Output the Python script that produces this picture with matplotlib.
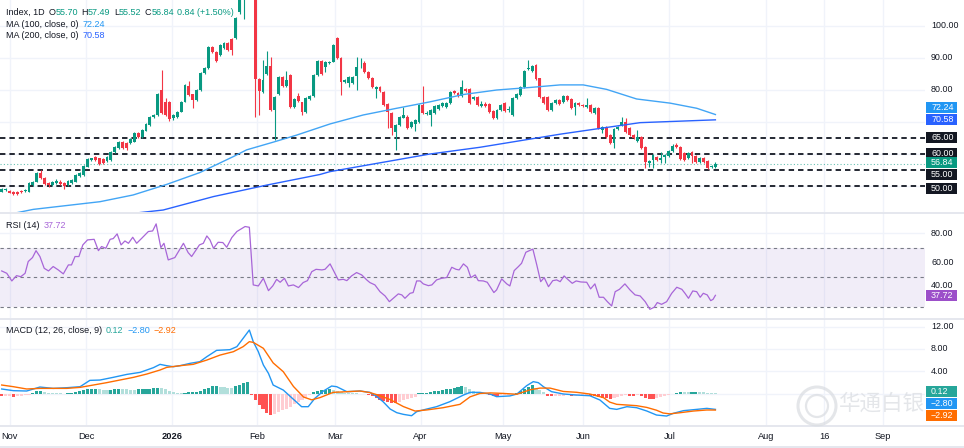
import matplotlib
matplotlib.use("Agg")
import matplotlib.pyplot as plt
from matplotlib.patches import Rectangle, Ellipse
from matplotlib.lines import Line2D
from matplotlib.transforms import blended_transform_factory

plt.rcParams["font.family"] = ["Liberation Sans", "DejaVu Sans"]

W, H = 964, 448

# daily candles (first bar is the early-Nov session)
opens = [
    48.1, 48.7, 48.4, 48.1, 48.0, 48.4, 48.2, 48.1, 50.2, 51.3,
    53.9, 52.3, 50.9, 50.2, 50.7, 51.3, 50.7, 50.1, 50.9, 51.3,
    53.0, 53.3, 55.9, 58.0, 58.9, 58.5, 58.2, 57.8, 58.0, 60.6,
    61.7, 63.8, 63.4, 63.2, 63.8, 66.6, 65.1, 67.2, 69.0, 71.6,
    72.1, 79.9, 76.0, 76.0, 71.0, 71.6, 73.1, 76.3, 81.2, 78.5,
    76.8, 79.9, 85.3, 86.7, 93.2, 91.9, 90.8, 92.9, 94.5, 95.7,
    96.0, 104.4, 110.0, 115.0, 121.0, 116.0, 83.2, 79.4, 84.9, 87.4,
    73.6, 78.6, 83.9, 81.2, 84.6, 74.7, 78.1, 76.0, 73.1, 77.0,
    78.0, 84.6, 89.0, 87.2, 88.2, 88.8, 96.3, 90.0, 82.5, 82.2,
    82.0, 84.3, 87.0, 88.2, 85.6, 83.7, 80.1, 80.9, 79.4, 75.4,
    72.6, 66.7, 69.0, 71.2, 71.4, 68.4, 69.3, 70.0, 75.2, 72.5,
    72.1, 72.8, 73.9, 74.9, 74.7, 75.7, 79.7, 79.1, 78.0, 80.1,
    80.1, 77.1, 77.8, 75.0, 75.6, 75.5, 73.3, 71.0, 73.6, 75.7,
    73.5, 72.1, 77.3, 78.4, 80.7, 86.4, 85.9, 87.7, 83.5, 77.8,
    77.8, 73.6, 75.7, 76.8, 76.0, 78.0, 77.0, 74.7, 75.9, 75.2,
    74.7, 75.2, 72.8, 74.2, 67.4, 68.4, 65.8, 63.2, 67.6, 69.0,
    70.0, 67.9, 65.8, 63.9, 65.3, 62.0, 57.2, 58.0, 59.1, 58.0,
    58.9, 59.3, 60.9, 62.7, 62.0, 60.3, 58.5, 60.6, 59.3, 57.5,
    58.7, 57.8, 55.8, 55.70,
]
highs = [
    49.2, 49.4, 48.8, 48.3, 48.2, 48.8, 49.0, 51.0, 51.5, 54.3,
    55.0, 52.6, 51.3, 51.6, 52.0, 51.7, 51.0, 51.7, 52.1, 53.6,
    54.2, 56.5, 58.5, 58.8, 59.2, 58.8, 58.5, 59.4, 60.9, 62.5,
    64.1, 64.1, 63.7, 64.8, 66.9, 66.9, 67.7, 69.6, 71.9, 72.5,
    79.0, 86.0, 77.5, 76.4, 72.4, 73.4, 76.6, 81.8, 82.7, 78.8,
    80.2, 85.6, 87.0, 93.5, 93.5, 92.2, 94.3, 94.8, 94.8, 96.0,
    102.6, 111.0, 117.0, 124.0, 125.0, 118.0, 83.5, 89.3, 92.1, 90.3,
    78.1, 84.2, 84.2, 85.8, 85.0, 77.4, 78.9, 76.3, 77.8, 78.4,
    84.9, 89.3, 89.3, 89.1, 89.1, 94.3, 96.6, 90.3, 83.3, 84.2,
    84.4, 90.3, 89.8, 89.0, 85.9, 84.0, 81.2, 81.2, 79.7, 75.7,
    72.9, 69.3, 71.7, 74.5, 72.0, 70.3, 70.8, 75.5, 81.2, 73.3,
    73.9, 75.2, 75.5, 76.0, 76.0, 79.7, 80.0, 79.4, 83.0, 80.4,
    80.4, 78.1, 78.1, 76.5, 76.0, 75.8, 73.6, 74.1, 75.5, 76.0,
    74.8, 77.6, 78.9, 81.0, 86.2, 89.3, 87.7, 88.0, 83.8, 78.1,
    78.1, 76.0, 77.1, 77.1, 78.3, 78.3, 77.3, 76.0, 76.2, 75.5,
    77.3, 75.5, 74.5, 74.5, 68.5, 68.7, 66.1, 67.9, 68.5, 71.4,
    71.3, 68.2, 66.1, 67.4, 65.6, 62.3, 58.1, 59.9, 59.4, 60.5,
    59.9, 61.2, 63.0, 63.4, 62.3, 60.6, 60.4, 60.9, 59.6, 59.0,
    59.0, 58.1, 56.6, 57.49,
]
lows = [
    47.9, 48.4, 47.6, 47.1, 47.2, 47.8, 47.9, 47.9, 50.0, 51.0,
    52.0, 50.2, 49.7, 50.0, 50.5, 50.2, 48.9, 49.9, 50.6, 51.1,
    52.7, 53.0, 55.7, 57.8, 57.7, 56.5, 56.7, 57.5, 57.8, 60.3,
    61.4, 61.4, 61.2, 63.0, 63.5, 64.8, 64.8, 67.0, 68.7, 71.3,
    71.8, 72.3, 71.8, 70.3, 70.6, 71.3, 72.9, 76.0, 78.0, 74.2,
    76.5, 79.6, 85.0, 86.4, 91.6, 88.7, 90.5, 92.6, 92.1, 90.8,
    95.7, 103.8, 102.0, 113.0, 115.0, 71.5, 72.0, 79.0, 84.6, 73.3,
    64.3, 78.3, 80.7, 80.9, 74.4, 74.4, 76.3, 72.0, 72.8, 76.7,
    77.7, 84.3, 84.6, 85.6, 88.0, 88.5, 89.7, 78.4, 82.2, 80.7,
    81.7, 79.9, 86.9, 85.3, 83.4, 80.4, 77.3, 79.4, 74.9, 68.0,
    65.8, 61.1, 68.7, 71.0, 67.6, 68.1, 67.0, 69.7, 72.5, 72.0,
    68.5, 72.5, 73.6, 74.6, 74.4, 75.4, 78.6, 77.8, 77.7, 79.3,
    75.4, 76.8, 74.9, 74.5, 74.7, 72.8, 70.7, 70.7, 73.3, 73.1,
    73.0, 71.8, 77.0, 78.1, 80.4, 86.1, 85.6, 82.9, 77.5, 75.4,
    73.3, 73.3, 75.4, 75.1, 75.7, 76.5, 73.9, 72.1, 74.9, 74.6,
    74.4, 72.8, 72.5, 67.6, 66.5, 65.0, 63.1, 61.7, 67.3, 68.7,
    66.6, 65.5, 64.5, 63.6, 61.4, 55.4, 55.8, 55.6, 57.7, 57.0,
    57.0, 59.0, 60.6, 61.7, 57.9, 57.7, 58.2, 57.0, 57.2, 57.2,
    57.2, 55.1, 55.5, 55.52,
]
closes = [
    48.9, 49.0, 47.8, 47.3, 47.4, 48.1, 48.6, 50.7, 51.3, 53.9,
    52.3, 50.5, 50.1, 51.3, 51.6, 50.5, 49.9, 51.4, 51.8, 53.3,
    53.9, 56.2, 58.2, 58.5, 58.0, 56.8, 57.0, 59.1, 60.6, 62.2,
    63.8, 61.7, 61.7, 64.5, 66.6, 65.1, 67.4, 69.3, 71.6, 72.1,
    78.6, 72.6, 72.1, 70.7, 72.1, 73.1, 76.3, 81.5, 78.3, 76.8,
    79.9, 85.3, 86.7, 93.2, 91.9, 89.0, 94.0, 94.5, 92.4, 92.4,
    102.3, 110.0, 115.0, 121.0, 117.0, 83.2, 79.7, 83.0, 87.4, 73.6,
    77.8, 83.9, 81.0, 83.0, 74.7, 77.1, 76.6, 73.1, 77.5, 78.1,
    84.6, 89.0, 84.9, 88.8, 88.8, 94.0, 90.0, 82.5, 83.0, 83.9,
    84.1, 87.2, 87.2, 85.6, 83.7, 80.7, 80.9, 79.7, 75.2, 72.9,
    67.9, 69.0, 71.4, 72.0, 67.9, 70.0, 70.5, 75.2, 72.8, 72.8,
    73.6, 74.9, 75.2, 75.7, 75.7, 79.4, 78.9, 78.1, 80.7, 79.6,
    75.7, 77.8, 75.2, 75.6, 75.0, 73.1, 71.0, 73.8, 75.2, 73.4,
    74.0, 77.3, 78.6, 80.7, 85.9, 86.7, 87.4, 83.2, 77.8, 75.7,
    73.6, 75.7, 76.8, 75.4, 78.0, 76.8, 74.2, 75.7, 75.2, 74.9,
    75.2, 73.1, 74.2, 67.9, 68.2, 65.3, 63.4, 67.6, 68.2, 70.0,
    66.9, 65.8, 64.8, 65.3, 61.7, 57.3, 57.8, 59.6, 58.0, 58.6,
    59.6, 60.9, 62.4, 62.0, 58.2, 58.0, 60.1, 59.3, 57.5, 58.7,
    57.5, 55.4, 56.1, 56.84,
]

# moving averages (bar index, value)
ma100_x = [0, 8.1, 25.2, 33.7, 42.3, 50.8, 59.4, 62.8, 69.6, 75.6, 84.2, 92.7,
           101.3, 109.8, 118.4, 126.9, 135.5, 143.2, 149.1, 155.1, 162.8, 171.4,
           178.2, 183]
ma100_y = [40.6, 42.6, 45.0, 47.1, 50.4, 54.1, 59.1, 61.2, 63.6, 65.8, 69.3, 72.1,
           74.2, 76.2, 78.5, 79.9, 80.7, 81.5, 81.5, 80.1, 77.1, 75.8, 74.2, 72.24]
ma200_x = [0, 20, 41.4, 54.3, 68.0, 81.6, 84.2, 109.8, 122.6, 143.2, 153.4, 163.7, 183]
ma200_y = [36.5, 39.5, 42.4, 46.6, 50.2, 53.5, 54.4, 59.9, 62.0, 66.1, 67.9, 69.7, 70.58]

levels = [65.0, 60.0, 55.0, 50.0]

# RSI(14)
rsi_x = [0, 1.3, 2.6, 3.8, 4.9, 6.0, 6.8, 7.9, 8.8, 9.8, 10.9, 12.0, 13.2, 14.5,
         15.8, 17.1, 17.9, 18.8, 19.8, 20.8, 22.0, 23.7, 24.8, 25.6, 26.7, 27.8,
         28.6, 29.6, 30.6, 31.6, 32.5, 33.6, 34.6, 35.9, 37.6, 38.7, 39.6, 40.8,
         41.6, 42.7, 44.4, 46.6, 47.8, 48.7, 50.7, 51.7, 52.6, 53.4, 54.3, 55.5,
         56.7, 57.7, 59.0, 60.3, 62.4, 63.5, 64.5, 65.8, 67.1, 68.4, 69.5, 70.5,
         71.4, 72.5, 73.5, 74.8, 76.1, 77.3, 78.4, 79.5, 80.6, 82.1, 82.9, 84.2,
         85.0, 86.3, 87.6, 88.5, 89.7, 91.0, 92.3, 93.6, 94.4, 95.7, 97.0, 98.3,
         99.4, 100.4, 101.7, 102.6, 103.4, 104.7, 105.5, 106.4, 107.3, 108.1,
         109.4, 110.3, 111.5, 112.8, 114.1, 115.4, 116.5, 117.3, 118.4, 119.4,
         120.3, 121.4, 122.2, 123.5, 124.5, 126.2, 126.9, 128.2, 129.5, 130.3,
         131.4, 132.5, 133.3, 134.4, 135.3, 136.2, 137.2, 138.2, 139.1, 140.2,
         141.3, 142.3, 143.2, 144.2, 145.3, 146.3, 147.3, 148.5, 150.0, 151.0,
         152.1, 153.2, 154.3, 155.3, 156.4, 157.3, 158.4, 159.8, 161.1, 162.4,
         163.7, 165.0, 166.2, 167.3, 168.1, 169.2, 170.5, 171.8, 173.1, 174.4,
         175.2, 176.1, 177.2, 178.2, 179.1, 179.9, 180.9, 181.8, 182.4, 183.0]
rsi_y = [54.3, 52.7, 47.5, 51.1, 50.4, 52.7, 60.7, 63.4, 68.1, 64.1, 56.1, 54.3,
         57.3, 55.0, 52.3, 58.4, 58.4, 64.1, 64.1, 72.0, 75.4, 75.8, 68.1, 70.9,
         69.7, 75.8, 76.3, 79.5, 72.0, 74.7, 73.1, 77.2, 73.1, 76.5, 81.1, 81.5,
         86.3, 70.2, 73.1, 61.8, 63.4, 73.1, 66.8, 64.1, 72.0, 73.1, 78.1, 75.4,
         69.7, 73.8, 73.6, 70.4, 77.0, 81.1, 84.5, 84.0, 44.8, 44.1, 49.3, 40.9,
         44.1, 48.6, 46.6, 49.3, 44.1, 44.8, 43.0, 46.4, 47.7, 53.8, 55.4, 55.0,
         55.4, 59.1, 55.0, 48.2, 48.6, 47.7, 50.9, 53.2, 51.6, 48.2, 46.4, 44.8,
         40.2, 37.3, 33.4, 35.7, 38.7, 38.0, 35.7, 39.1, 39.6, 47.5, 47.5, 45.5,
         44.3, 44.8, 48.2, 49.3, 49.8, 56.8, 55.4, 55.0, 59.1, 56.8, 49.8, 51.6,
         47.7, 47.5, 46.6, 39.6, 41.4, 48.9, 45.5, 44.1, 54.5, 57.3, 59.5, 67.0,
         68.1, 69.1, 58.4, 47.0, 49.8, 43.6, 47.7, 48.2, 47.0, 50.9, 48.2, 45.9,
         47.5, 46.8, 46.6, 42.1, 45.5, 36.4, 36.4, 33.4, 30.5, 40.2, 41.8, 45.5,
         41.4, 38.0, 37.3, 33.4, 28.2, 29.6, 32.8, 31.6, 33.4, 39.1, 43.2, 41.8,
         39.1, 35.7, 40.7, 40.2, 36.4, 39.1, 38.0, 34.1, 35.0, 37.72]

# MACD(12, 26, 9)
macd_x = [0, 3.0, 6.4, 9.8, 13.2, 16.7, 20.1, 22.6, 25.2, 28.6, 32.1, 35.5, 38.9,
          40.6, 42.3, 44.0, 45.7, 48.3, 50.8, 52.6, 55.1, 58.5, 60.3, 61.9, 63.5,
          64.5, 65.8, 67.1, 68.4, 69.6, 72.2, 74.8, 76.9, 78.6, 80.3, 82.5, 84.6,
          85.9, 88.5, 91.9, 94.4, 96.2, 97.8, 99.6, 101.3, 103.0, 105.1, 106.4,
          109.0, 111.5, 114.9, 118.4, 120.1, 122.6, 125.2, 126.9, 130.3, 132.1,
          134.6, 136.3, 137.6, 138.9, 141.0, 144.0, 147.4, 150.8, 153.4, 155.9,
          157.7, 160.3, 162.8, 165.4, 167.9, 170.5, 172.2, 174.8, 178.2, 180.8, 183]
macd_y = [0.84, 0.54, 0.48, 1.19, 0.95, 1.07, 1.25, 2.38, 2.44, 2.92, 3.45, 3.81,
          4.65, 5.24, 5.0, 4.82, 5.0, 5.42, 5.72, 6.61, 7.74, 7.86, 8.4, 9.88, 11.37,
          9.29, 7.5, 5.12, 3.63, 1.55, 0.65, -1.0, -2.32, -2.32, -0.83, 0.48, 1.37,
          1.25, 0.36, 0.48, 0.24, -0.53, -1.43, -2.74, -3.39, -3.69, -3.93, -3.21,
          -2.74, -2.32, -1.43, -0.24, 0.24, 0.24, -0.06, -0.53, -0.4, -0.06, 1.43,
          2.15, 1.97, 1.25, 0.36, -0.05, -0.24, -0.36, -1.13, -2.62, -2.8, -2.32,
          -2.5, -3.09, -3.81, -3.99, -3.51, -3.03, -2.8, -2.62, -2.80]
signal_x = [0, 3.0, 6.4, 9.8, 13.2, 16.7, 20.1, 23.5, 26.9, 30.3, 33.8, 37.2, 40.6,
            42.3, 45.7, 49.1, 52.6, 56.0, 59.4, 61.9, 63.5, 64.5, 67.1, 69.6, 72.2,
            74.8, 77.4, 79.5, 81.6, 85.0, 88.5, 91.9, 94.4, 97.0, 99.6, 103.0, 106.0,
            109.0, 113.2, 117.5, 120.1, 122.6, 125.2, 128.6, 132.1, 135.5, 138.0,
            140.6, 144.0, 147.4, 150.8, 154.3, 155.9, 157.7, 160.3, 162.8, 165.4,
            167.9, 169.6, 171.3, 173.9, 177.3, 180.8, 183]
signal_y = [1.55, 1.25, 0.84, 0.95, 0.95, 0.95, 1.13, 1.55, 1.97, 2.44, 2.92, 3.51,
            4.23, 4.7, 5.0, 5.24, 6.01, 6.9, 7.5, 8.4, 9.29, 9.17, 8.1, 5.5, 3.93,
            1.3, -0.6, -1.1, -0.7, 0.24, 0.36, 0.48, 0.2, -0.35, -1.05, -2.3, -3.1,
            -2.9, -2.5, -1.9, -0.56, 0.04, 0.14, 0.05, -0.1, 0.7, 1.0, 1.0, 0.4, 0.25,
            -0.06, -0.7, -1.5, -1.9, -2.02, -2.14, -2.45, -2.95, -3.45, -3.6, -3.4,
            -3.1, -2.91, -2.92]
hist = [
    -0.5, -0.48, -0.45, -0.6, -0.4, -0.35, -0.3, -0.2, 0.2, 0.4,
    0.5, 0.3, 0.2, 0.15, 0.1, 0.1, -0.05, 0.05, 0.1, 0.3,
    0.5, 0.6, 0.8, 0.85, 0.9, 0.8, 0.7, 0.6, 0.7, 0.8,
    0.85, 0.8, 0.75, 0.7, 0.7, 0.75, 0.8, 0.85, 0.9, 1.0,
    1.1, 1.0, 0.9, 0.4, 0.3, 0.2, 0.15, 0.2, 0.25, 0.3,
    0.35, 0.5, 0.8, 1.1, 1.3, 1.35, 1.25, 1.2, 1.1, 1.0,
    1.3, 1.6, 1.9, 2.1, -0.3, -1.2, -2.0, -2.8, -3.4, -3.8,
    -3.6, -3.3, -3.0, -2.7, -2.3, -1.9, -1.5, -1.1, -0.7, -0.3,
    0.3, 0.5, 0.6, 0.7, 0.85, 0.6, 0.4, 0.3, 0.2, 0.15,
    0.1, 0.05, -0.05, -0.1, -0.3, -0.5, -0.8, -1.1, -1.3, -1.5,
    -1.7, -1.75, -1.4, -1.2, -1.0, -0.8, -0.6, 0.1, 0.15, 0.2,
    0.25, 0.4, 0.5, 0.65, 0.8, 0.9, 1.0, 1.2, 1.4, 1.2,
    0.8, 0.5, 0.2, -0.1, -0.1, -0.2, -0.35, -0.4, -0.3, -0.25,
    -0.15, -0.1, 0.2, 0.5, 0.9, 1.2, 1.5, 1.1, 0.6, 0.3,
    -0.4, -0.5, -0.45, -0.4, -0.35, -0.3, -0.5, -0.4, -0.3, -0.25,
    -0.2, -0.35, -0.5, -0.65, -0.75, -0.85, -0.9, -0.75, -0.6, -0.45,
    -0.3, -0.35, -0.4, -0.3, -0.5, -0.7, -0.9, -0.95, -0.8, -0.6,
    -0.4, -0.2, -0.05, 0.2, 0.3, 0.3, 0.25, 0.3, 0.35, 0.3,
    0.3, 0.2, 0.15, 0.12,
]

month_pos = [2.0, 21.6, 43.7, 65.5, 85.5, 107.4, 128.5, 149.1, 171.2, 196.0, 210.9, 226.0]
month_lab = ["Nov", "Dec", "2026", "Feb", "Mar", "Apr", "May", "Jun", "Jul", "Aug", "16", "Sep"]

UP, DOWN = "#089981", "#f23645"
DARK = "#131722"
GRID = "#f0f3fa"
X0, DX = 1.7, 3.9          # pixel of first bar, pixels per bar
PLOT_R = 925               # right edge of the panes (px)

fig = plt.figure(figsize=(W / 100, H / 100), dpi=100)
fig.patch.set_facecolor("white")


def pane(top, bottom):
    ax = fig.add_axes([0, 1 - bottom / H, PLOT_R / W, (bottom - top) / H])
    ax.set_xlim(-X0 / DX, (PLOT_R - X0) / DX)
    for s in ax.spines.values():
        s.set_visible(False)
    ax.set_xticks([])
    ax.set_yticks([])
    for m in month_pos:
        ax.axvline(m, color=GRID, lw=1, zorder=0)
    return ax


ax_p = pane(0, 212)
ax_r = pane(213, 318)
ax_m = pane(319, 425)
ax_p.set_ylim(41.78, 108.03)
ax_r.set_ylim(22.3, 93.7)
ax_m.set_ylim(-5.59, 13.34)

# ---- price pane
for v in [100, 90, 80, 70, 60, 50]:
    ax_p.axhline(v, color=GRID, lw=1, zorder=0)

idx = list(range(len(closes)))
cols = [UP if c >= o else DOWN for o, c in zip(opens, closes)]
ax_p.vlines(idx, lows, highs, colors=cols, lw=0.8, zorder=3)
ax_p.bar(idx, [max(abs(c - o), 0.18) for o, c in zip(opens, closes)],
         bottom=[min(o, c) for o, c in zip(opens, closes)],
         width=0.72, color=cols, zorder=4, linewidth=0)

ax_p.plot(ma100_x, ma100_y, color="#42a5f5", lw=1, zorder=5)
ax_p.plot(ma200_x, ma200_y, color="#2962ff", lw=1, zorder=5)
for lv in levels:
    ax_p.axhline(lv, color=DARK, lw=1.3, ls=(0, (3, 2.2)), zorder=2)
ax_p.axhline(closes[-1], color=UP, lw=0.8, ls=(0, (1, 2)), alpha=0.6, zorder=2)

# ---- RSI pane
ax_r.axhline(80, color=GRID, lw=1, zorder=0)
ax_r.axhspan(30, 70, color="#7e57c2", alpha=0.1, lw=0, zorder=1)
for v in [70, 50, 30]:
    ax_r.axhline(v, color="#787b86", lw=0.8, ls=(0, (3, 3)), zorder=2)
ax_r.plot(rsi_x, rsi_y, color="#a866d8", lw=0.9, zorder=4)

# ---- MACD pane
for v in [12, 8, 4, 0]:
    ax_m.axhline(v, color=GRID, lw=1, zorder=0)
hcols = []
for k, h in enumerate(hist):
    prev = hist[k - 1] if k else h
    if h >= 0:
        hcols.append("#26a69a" if h > prev else "#b2dfdb")
    else:
        hcols.append("#ffcdd2" if h > prev else "#ff5252")
ax_m.bar(idx, hist, width=0.8, color=hcols, lw=0, zorder=2)
ax_m.plot(macd_x, macd_y, color="#2196f3", lw=1, zorder=4)
ax_m.plot(signal_x, signal_y, color="#ff6d00", lw=1, zorder=4)

# ---- pane separators
for y in [212.5, 318.5, 425.5, 446.5]:
    fig.add_artist(Line2D([0, 1], [1 - y / H] * 2, transform=fig.transFigure,
                          color="#e0e3eb", lw=1.2))

# ---- price scale labels
FS = 6.4


def ypix(ax, v):
    return ax.transData.transform((0, v))[1]


def plain(ax, v, text, dy=0):
    fig.text(931 / W, (ypix(ax, v) + dy) / H, text, color=DARK, fontsize=FS,
             va="center", ha="left")


def tag(ax, v, text, bg, dy=0):
    y = ypix(ax, v) + dy
    fig.add_artist(Rectangle((925.5 / W, (y - 5.5) / H), 31 / W, 11 / H,
                             transform=fig.transFigure, facecolor=bg,
                             edgecolor="none", zorder=5))
    fig.text(931 / W, y / H, text, color="white", fontsize=FS, va="center",
             ha="left", zorder=6)


for v in [100, 90, 80]:
    plain(ax_p, v, f"{v:.2f}")
tag(ax_p, ma100_y[-1], f"{ma100_y[-1]:.2f}", "#2196f3", dy=6.8)
tag(ax_p, ma200_y[-1], f"{ma200_y[-1]:.2f}", "#2962ff")
tag(ax_p, 65, "65.00", DARK)
tag(ax_p, 60, "60.00", DARK)
tag(ax_p, closes[-1], f"{closes[-1]:.2f}", UP, dy=1)
tag(ax_p, 55, "55.00", DARK, dy=-5)
tag(ax_p, 50, "50.00", DARK, dy=-2.7)

for v in [80, 60]:
    plain(ax_r, v, f"{v:.2f}")
plain(ax_r, 40, "40.00", dy=6.5)     # nudged up, clear of the RSI tag
tag(ax_r, rsi_y[-1], f"{rsi_y[-1]:.2f}", "#9c4fc9")

for v in [12, 8, 4]:
    plain(ax_m, v, f"{v:.2f}")
tag(ax_m, hist[-1], f"{hist[-1]:.2f}", "#26a69a", dy=2)
tag(ax_m, macd_y[-1], f"\u2212{abs(macd_y[-1]):.2f}", "#2196f3", dy=5.4)
tag(ax_m, signal_y[-1], f"\u2212{abs(signal_y[-1]):.2f}", "#ff6d00", dy=-5)

# ---- time axis
tr = blended_transform_factory(ax_m.transData, fig.transFigure)
for pos, lab in zip(month_pos, month_lab):
    fig.text(pos, 1 - 436 / H, lab, transform=tr, fontsize=FS + 0.3, color=DARK,
             ha="center", va="center",
             fontweight="bold" if lab == "2026" else "normal")


# ---- legends
LFS = 6.5


def chain(ax, y_px, parts):
    h = ax.bbox.height
    top = H - ax.bbox.y1
    t = ax.text(6.5 / PLOT_R, 1 - (y_px - top) / h, parts[0][0], color=parts[0][1],
                transform=ax.transAxes, fontsize=LFS, va="center", ha="left")
    for s, c, gap in parts[1:]:
        t = ax.annotate(s, xy=(1, 0), xycoords=t, xytext=(gap, 0),
                        textcoords="offset points", color=c, fontsize=LFS,
                        va="bottom", ha="left")


chain(ax_p, 12, [("Index, 1D", DARK),
                 ("O", DARK, 2.5), ("55.70", UP, 0),
                 ("H", DARK, 2.5), ("57.49", UP, 0),
                 ("L", DARK, 2.5), ("55.52", UP, 0),
                 ("C", DARK, 2.5), ("56.84", UP, 0),
                 ("0.84 (+1.50%)", UP, 2.5)])
chain(ax_p, 24, [("MA (100, close, 0)", DARK), ("72.24", "#2196f3", 2.5)])
chain(ax_p, 35.5, [("MA (200, close, 0)", DARK), ("70.58", "#2962ff", 2.5)])
chain(ax_r, 225, [("RSI (14)", DARK), ("37.72", "#a866d8", 2.5)])
chain(ax_m, 330, [("MACD (12, 26, close, 9)", DARK), ("0.12", "#26a69a", 2.5),
                  ("\u22122.80", "#2196f3", 2.5), ("\u22122.92", "#ff6d00", 2.5)])

# ---- watermark (kept clear of the price-scale tags)
fig.add_artist(Ellipse((817 / W, 1 - 406 / H), 38 / W, 38 / H, transform=fig.transFigure,
                       fill=False, edgecolor="#d9dce1", lw=2.2, alpha=0.7, zorder=10))
fig.add_artist(Ellipse((817 / W, 1 - 406 / H), 22 / W, 22 / H, transform=fig.transFigure,
                       fill=False, edgecolor="#d9dce1", lw=1.6, alpha=0.7, zorder=10))
fig.text(838 / W, 1 - 404 / H, "华通白银", fontsize=15.5, color="#d9dce1", alpha=0.7,
         family=["Noto Sans CJK SC", "DejaVu Sans"], va="center", ha="left", zorder=10)

fig.savefig("out.png", dpi=100)
